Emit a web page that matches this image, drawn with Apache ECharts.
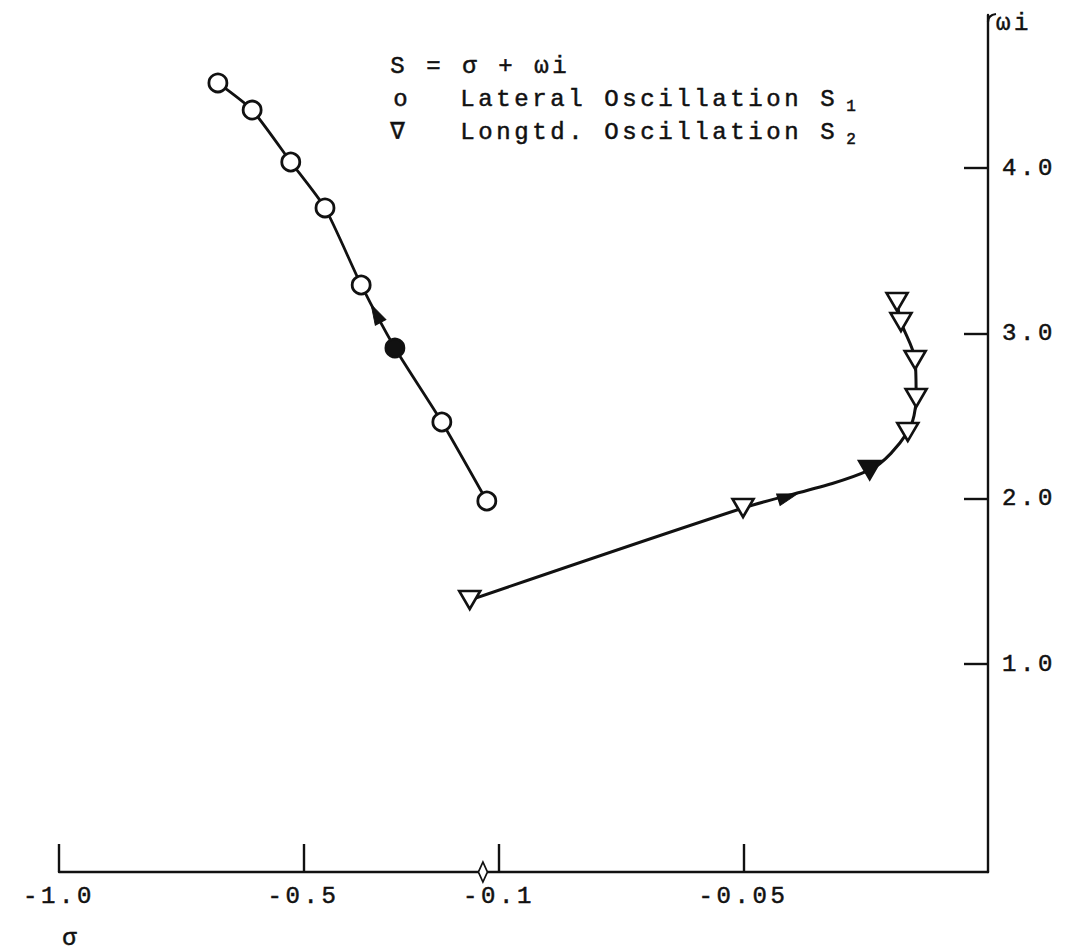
<!DOCTYPE html>
<html>
<head>
<meta charset="utf-8">
<script src="https://cdn.jsdelivr.net/npm/echarts@6/dist/echarts.min.js"></script>
<style>
  html, body { margin: 0; padding: 0; background: #fff; }
  #chart { width: 1072px; height: 951px; }
  /* typewriter pitch: wide spacing between characters */
  #chart text { letter-spacing: 3.6px; }
</style>
</head>
<body>
<div id="chart"></div>
<script>
// Horizontal σ scale: linear up to SPLIT, then stretched by STRETCH toward 0
const SPLIT = -0.1;
const STRETCH = 10;

const sigmaTicks = [-1.0, -0.5, -0.1, -0.05];
const sigmaTickLabels = ['-1.0', '-0.5', '-0.1', '-0.05'];
const omegaTicks = [1, 2, 3, 4];
const omegaTickLabels = ['1.0', '2.0', '3.0', '4.0'];

// Lateral oscillation root S1, in the direction of the locus
const lateralSigma = [-0.125, -0.217, -0.313, -0.382, -0.456, -0.526, -0.605, -0.675];
const lateralOmega = [1.986, 2.464, 2.912, 3.293, 3.759, 4.037, 4.351, 4.515];
const lateralFilled = 2;

// Longitudinal oscillation root S2, in the direction of the locus
const longSigma = [-0.160, -0.0501, -0.0242, -0.0164, -0.0147, -0.0149, -0.0178, -0.0186];
const longOmega = [1.387, 1.944, 2.174, 2.404, 2.609, 2.839, 3.069, 3.190];
const longFilled = 2;

// direction arrows along each locus: [σ, ω, rotation]
const lateralArrow = [-0.352, 3.120, 28];
const longArrow = [-0.0409, 2.012, -73];
// small mark sitting on the σ axis
const axisMarkSigma = -0.133;

const OMEGA_MIN = -0.258;
const OMEGA_MAX = 4.926;

function toAxis(s) {
  return s <= SPLIT ? s : SPLIT + (s - SPLIT) * STRETCH;
}

const FONT = "'Liberation Mono', 'DejaVu Sans Mono', monospace";
const INK = '#111';
const TXT = { color: INK, fontFamily: FONT, fontSize: 24, textBorderColor: INK, textBorderWidth: 0.5 };

const xTickPos = sigmaTicks.map(toAxis);
function xLabel(v) {
  let best = 0;
  xTickPos.forEach((p, i) => { if (Math.abs(p - v) < Math.abs(xTickPos[best] - v)) best = i; });
  return sigmaTickLabels[best];
}
function yLabel(v) {
  const i = omegaTicks.findIndex(t => Math.abs(t - v) < 1e-6);
  return i >= 0 ? omegaTickLabels[i] : '';
}

function pointData(sig, om, filled) {
  return sig.map((s, i) => {
    const item = { value: [toAxis(s), om[i]] };
    if (i === filled) item.itemStyle = { color: INK };
    return item;
  });
}

function gText(text, left, top, size) {
  return { type: 'text', left: left, top: top,
           style: { text: text, fill: INK, stroke: INK, lineWidth: 0.5,
                    font: (size || 24) + 'px ' + FONT } };
}

const chart = echarts.init(document.getElementById('chart'), null, { renderer: 'svg' });

chart.setOption({
  animation: false,
  backgroundColor: '#fff',
  grid: { left: 59, right: 84, top: 15, bottom: 79, containLabel: false },
  xAxis: {
    type: 'value',
    min: toAxis(-1.0),
    max: toAxis(0),
    splitLine: { show: false },
    axisLine: { onZero: false, lineStyle: { color: INK, width: 2.4 } },
    axisTick: { show: true, inside: true, length: 28, customValues: xTickPos,
                lineStyle: { color: INK, width: 2.4 } },
    axisLabel: Object.assign({ customValues: xTickPos, formatter: xLabel, margin: 12 }, TXT)
  },
  yAxis: {
    type: 'value',
    position: 'right',
    min: OMEGA_MIN,
    max: OMEGA_MAX,
    splitLine: { show: false },
    axisLine: { onZero: false, lineStyle: { color: INK, width: 2.4 } },
    axisTick: { show: true, inside: true, length: 24, customValues: omegaTicks,
                lineStyle: { color: INK, width: 2.4 } },
    axisLabel: Object.assign({ customValues: omegaTicks, formatter: yLabel, margin: 14 }, TXT),
    name: 'ωi',
    nameLocation: 'end',
    nameGap: 0,
    nameTextStyle: Object.assign({ align: 'left', verticalAlign: 'top', padding: [-4, 0, 0, 8] }, TXT)
  },
  series: [
    {
      name: 'Lateral Oscillation S1',
      type: 'line',
      data: pointData(lateralSigma, lateralOmega, lateralFilled),
      smooth: 0.2,
      symbol: 'circle',
      symbolSize: 18,
      itemStyle: { color: '#fff', borderColor: INK, borderWidth: 2.8 },
      lineStyle: { color: INK, width: 2.8 },
      z: 3
    },
    {
      name: 'Longtd. Oscillation S2',
      type: 'line',
      data: pointData(longSigma, longOmega, longFilled),
      smooth: 0.3,
      symbol: 'triangle',
      symbolRotate: 180,
      symbolSize: [21, 18],
      itemStyle: { color: '#fff', borderColor: INK, borderWidth: 2.6 },
      lineStyle: { color: INK, width: 3 },
      z: 3
    },
    {
      type: 'scatter',
      clip: false,
      symbol: 'triangle',
      symbolSize: [12, 20],
      itemStyle: { color: INK, borderColor: INK, borderWidth: 1, opacity: 1 },
      data: [
        { value: [toAxis(lateralArrow[0]), lateralArrow[1]], symbolRotate: lateralArrow[2] },
        { value: [toAxis(longArrow[0]), longArrow[1]], symbolRotate: longArrow[2] }
      ],
      z: 5
    },
    {
      type: 'scatter',
      clip: false,
      symbol: 'diamond',
      symbolSize: [9, 20],
      itemStyle: { color: '#fff', borderColor: INK, borderWidth: 2, opacity: 1 },
      data: [[toAxis(axisMarkSigma), OMEGA_MIN]],
      z: 4
    }
  ],
  graphic: [
    gText('S = σ + ωi', 390, 54),
    gText('o', 393, 87),
    gText('Lateral Oscillation S', 460, 87),
    gText('1', 846, 99, 16),
    gText('∇', 390, 120),
    gText('Longtd. Oscillation S', 460, 120),
    gText('2', 846, 132, 16),
    gText('σ', 62, 926),
    // little hook on the top end of the ωi axis
    { type: 'bezierCurve', silent: true,
      shape: { x1: 988, y1: 22, x2: 996, y2: 14, cpx1: 988, cpy1: 15 },
      style: { stroke: INK, lineWidth: 2.2, fill: null } }
  ]
});
</script>
</body>
</html>
